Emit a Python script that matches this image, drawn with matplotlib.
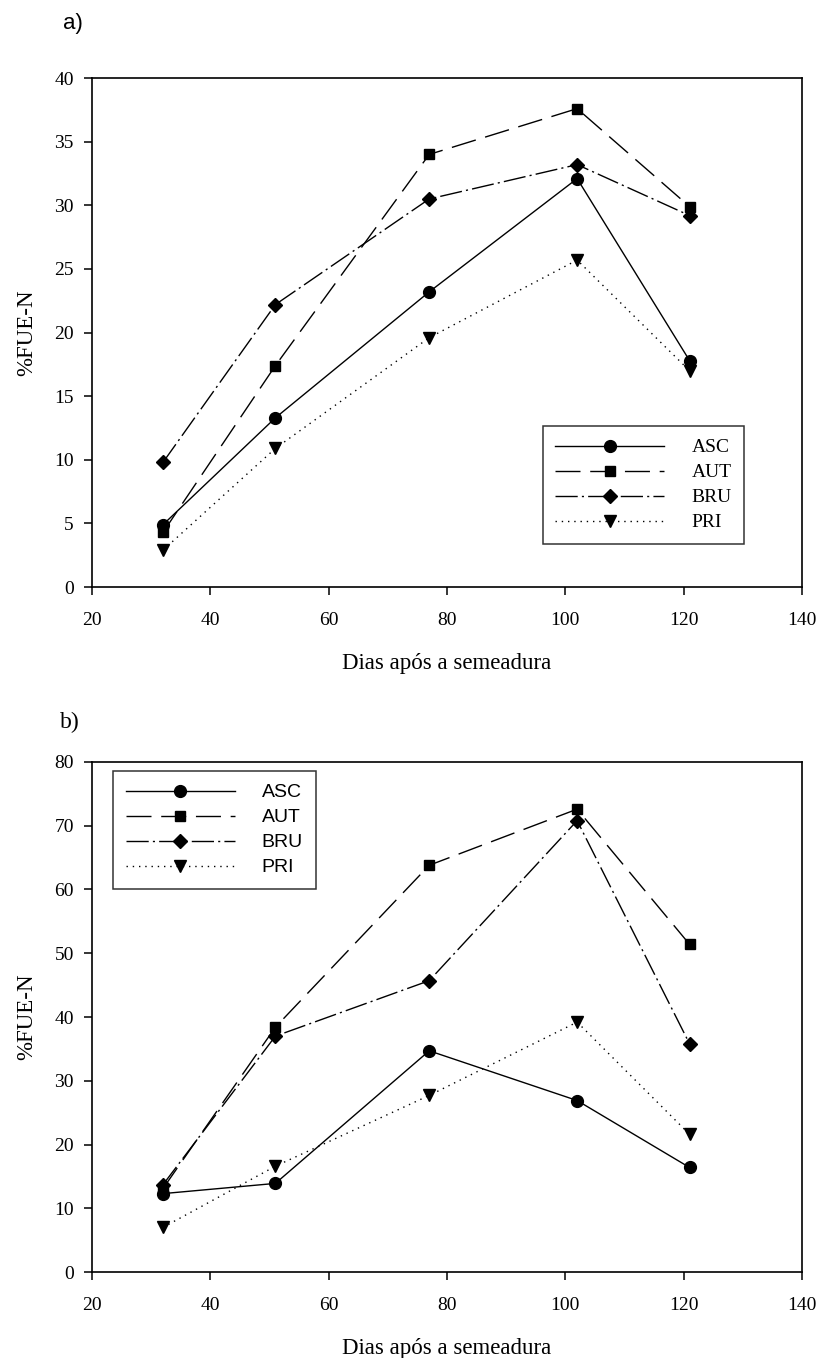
import matplotlib
matplotlib.use("Agg")
import matplotlib.pyplot as plt

# dias apos a semeadura
dias = [32, 51, 77, 102, 121]

# painel a)
asc_a = [4.9, 13.3, 23.2, 32.1, 17.8]
aut_a = [4.3, 17.4, 34.0, 37.6, 29.9]
bru_a = [9.8, 22.2, 30.5, 33.2, 29.2]
pri_a = [2.9, 10.9, 19.6, 25.7, 17.0]

# painel b)
asc_b = [12.3, 13.9, 34.7, 26.9, 16.4]
aut_b = [13.1, 38.4, 63.8, 72.6, 51.4]
bru_b = [13.7, 37.0, 45.7, 70.8, 35.8]
pri_b = [7.0, 16.6, 27.7, 39.2, 21.6]

labels = ["ASC", "AUT", "BRU", "PRI"]
xticks = [20, 40, 60, 80, 100, 120, 140]

SERIF = "Liberation Serif"
SANS = "Liberation Sans"

styles = [
    dict(marker="o", markersize=8.5, linestyle="-"),
    dict(marker="s", markersize=7.5, dashes=(18, 7)),
    dict(marker="D", markersize=7.5, dashes=(16, 3, 1.5, 3)),
    dict(marker="v", markersize=9, dashes=(1, 3.5)),
]


def draw_panel(ax, series, ymax, ystep, leg_anchor, leg_font):
    for vals, lab, st in zip(series, labels, styles):
        ax.plot(dias, vals, color="black", linewidth=1.0,
                markerfacecolor="black", markeredgecolor="black",
                label=lab, **st)

    ax.set_xlim(20, 140)
    ax.set_ylim(0, ymax)
    ax.set_xticks(xticks)
    ax.set_yticks(list(range(0, ymax + 1, ystep)))
    for sp in ax.spines.values():
        sp.set_linewidth(1.2)
    ax.tick_params(axis="x", direction="out", length=6, width=1.1,
                   pad=12, labelsize=14)
    ax.tick_params(axis="y", direction="out", length=6, width=1.1,
                   pad=7, labelsize=14)
    for t in ax.get_xticklabels() + ax.get_yticklabels():
        t.set_fontfamily(SERIF)

    ax.set_xlabel("Dias após a semeadura", fontfamily=SERIF,
                  fontsize=16.5, labelpad=17)
    ax.set_ylabel("%FUE-N", fontfamily=SERIF, fontsize=16.5, labelpad=12)

    leg = ax.legend(loc="upper left", bbox_to_anchor=leg_anchor,
                    borderaxespad=0, frameon=True, fancybox=False,
                    handlelength=5.6, handletextpad=1.4, labelspacing=0.38,
                    borderpad=0.65,
                    prop={"family": leg_font, "size": 14})
    leg.get_frame().set_edgecolor("black")
    leg.get_frame().set_linewidth(1.1)


fig = plt.figure(figsize=(8.19, 13.58), dpi=100)
ax_a = fig.add_axes([0.1123, 0.5677, 0.8669, 0.3748])
ax_b = fig.add_axes([0.1123, 0.0633, 0.8669, 0.3756])

draw_panel(ax_a, [asc_a, aut_a, bru_a, pri_a], 40, 5,
           (0.635, 0.316), SERIF)
draw_panel(ax_b, [asc_b, aut_b, bru_b, pri_b], 80, 10,
           (0.0296, 0.982), SANS)

fig.text(63 / 819, 1 - 23 / 1358, "a)", fontfamily=SANS, fontsize=16,
         ha="left", va="center")
fig.text(60 / 819, 1 - 722 / 1358, "b)", fontfamily=SERIF, fontsize=17,
         ha="left", va="center")

fig.savefig("out.png", dpi=100)
